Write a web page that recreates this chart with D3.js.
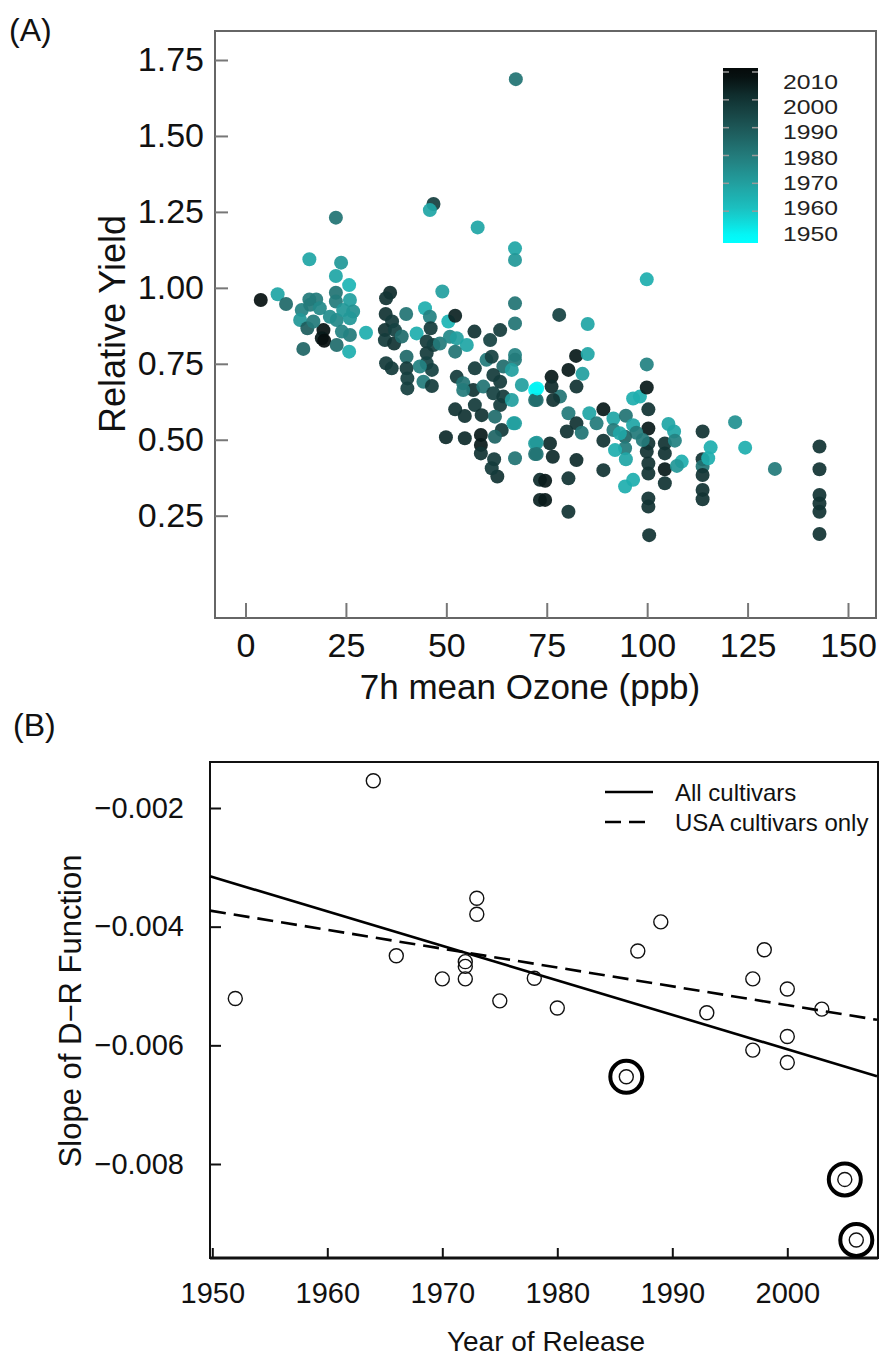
<!DOCTYPE html>
<html><head><meta charset="utf-8">
<script src="https://cdn.jsdelivr.net/npm/d3@7"></script>
<style>body{margin:0;background:#fff}svg{display:block}</style>
</head><body>
<svg id="c" width="880" height="1357"></svg>
<script>
// ---------- Panel A data ----------
const ozone = [67.3,22.5,46.8,45.9,57.8,67.1,15.9,23.8,67.1,99.9,
3.8,8.0,10.1,22.5,25.8,15.9,17.6,22.5,14.0,16.1,18.5,22.5,26.0,26.8,13.6,15.4,19.4,19.0,19.6,16.9,22.7,26.0,30.0,22.7,26.0,25.8,14.4,24.0,21.0,24.3,
36.0,35.0,34.9,36.5,34.7,37.2,34.7,37.0,35.0,36.4,38.9,40.0,40.1,40.1,40.3,40.3,42.6,44.7,45.9,46.1,49.0,50.5,52.2,45.1,46.8,45.1,45.1,46.4,44.3,46.4,43.4,48.4,50.9,52.6,55.1,52.2,57.0,60.9,63.4,67.1,67.1,67.1,67.1,52.6,54.2,57.1,56.7,60.0,61.3,64.2,61.7,63.4,66.3,68.8,54.2,59.2,61.7,64.2,63.4,66.3,52.2,54.6,57.1,58.8,62.1,63.8,66.7,62.1,49.9,54.6,58.6,58.6,58.6,61.9,62.7,61.3,67.1,72.1,72.1,72.1,72.1,73.3,73.3,
78.1,85.2,82.3,85.2,99.9,80.4,76.2,83.9,78.3,82.4,76.2,76.6,80.4,82.4,80.0,83.7,85.6,72.5,72.6,75.8,72.5,72.5,76.5,82.4,80.4,74.6,74.6,80.4,89.1,89.1,89.1,87.4,91.6,94.7,96.5,98.2,99.9,100.3,100.3,100.3,99.9,100.3,100.3,100.3,100.3,100.5,96.5,97.3,98.9,94.5,94.5,92.0,94.7,94.5,96.5,105.3,106.7,104.4,104.4,106.9,104.4,104.4,108.6,107.4,113.8,113.8,113.8,113.8,113.8,113.8,115.8,115.2,121.9,124.4,131.8,142.9,142.9,142.9,142.9,142.9,142.9,67.1,91.6,93.2];
const relYield = [1.687,1.231,1.276,1.256,1.199,1.130,1.094,1.083,1.092,1.028,
0.960,0.979,0.947,1.039,1.009,0.962,0.962,0.984,0.927,0.944,0.933,0.955,0.960,0.922,0.894,0.867,0.861,0.834,0.826,0.889,0.894,0.900,0.852,0.812,0.845,0.790,0.799,0.856,0.905,0.927,
0.984,0.966,0.914,0.889,0.861,0.861,0.828,0.817,0.752,0.735,0.840,0.914,0.773,0.735,0.702,0.669,0.850,0.933,0.905,0.867,0.988,0.889,0.908,0.823,0.812,0.785,0.752,0.730,0.691,0.677,0.741,0.817,0.839,0.834,0.812,0.790,0.856,0.828,0.861,0.949,0.883,0.779,0.763,0.707,0.686,0.735,0.664,0.763,0.773,0.741,0.713,0.691,0.730,0.680,0.664,0.675,0.653,0.642,0.614,0.631,0.600,0.578,0.614,0.581,0.576,0.532,0.554,0.510,0.508,0.505,0.516,0.483,0.455,0.436,0.379,0.406,0.439,0.664,0.631,0.488,0.453,0.368,0.302,
0.911,0.881,0.776,0.782,0.748,0.730,0.707,0.717,0.642,0.675,0.675,0.631,0.587,0.554,0.527,0.523,0.587,0.631,0.669,0.488,0.490,0.453,0.444,0.433,0.373,0.365,0.302,0.263,0.600,0.497,0.400,0.554,0.570,0.579,0.636,0.642,0.672,0.600,0.537,0.488,0.461,0.422,0.389,0.307,0.280,0.186,0.548,0.523,0.499,0.510,0.472,0.466,0.436,0.346,0.368,0.552,0.527,0.488,0.455,0.497,0.403,0.357,0.428,0.414,0.527,0.436,0.412,0.384,0.335,0.304,0.475,0.439,0.558,0.474,0.404,0.478,0.403,0.318,0.290,0.263,0.190,0.554,0.532,0.521];
const releaseYear = [1982,1982,1997,1968,1968,1968,1968,1972,1972,1966,
2008,1968,1985,1968,1964,1980,1980,1982,1978,1980,1976,1980,1970,1974,1972,1988,2008,2006,2009,1980,1976,1972,1966,1984,1980,1966,1986,1978,1975,1972,
2002,2000,2000,1998,2000,1996,1998,2000,1998,1998,1984,1982,1985,1998,1997,1997,1966,1966,1978,1998,1970,1964,2004,1998,1996,1998,1996,1996,1980,1998,1978,1980,1976,1970,1968,1982,2000,1996,1998,1982,1982,1978,1980,1998,1982,1998,2000,1980,1996,1984,1998,1998,1970,1970,1980,1982,1996,1998,1998,1970,2000,2000,1998,2000,1984,1998,1968,1986,2002,2002,2006,2006,2000,1998,2000,1998,1982,1952,1984,1970,1982,2002,2004,
1996,1968,2006,1968,1978,2006,2006,1970,1982,2000,2002,2000,1980,2000,2000,1982,1968,1984,1952,2002,1972,1982,2002,2002,2000,2006,2006,2000,2006,2000,2000,1980,1968,1982,1966,1966,2006,2000,2006,2000,2000,2000,2000,2000,2000,2000,1968,1980,1980,1986,1980,1966,1968,1966,1966,1968,1968,2000,2000,1978,2006,2000,1966,1972,2000,2000,1982,2000,2000,2000,1966,1966,1974,1966,1980,2000,2000,2000,2000,2000,2000,1970,1980,1968];
const xTicksA = [0,25,50,75,100,125,150];
const yTicksA = [0.25,0.50,0.75,1.00,1.25,1.50,1.75];
const legendYears = [2010,2000,1990,1980,1970,1960,1950];
const colorStopYears = [1950,1960,1970,1980,1990,2000,2010];
const colorStops = ["#00ffff","#1ac4c4","#229f9f","#237b7b","#1d5757","#123434","#050a0a"];

// ---------- Panel B data ----------
const relYearB = [1952,1964,1966,1970,1972,1972,1972,1973,1973,1975,1978,1980,1986,1987,1989,1993,1997,1997,1998,2000,2000,2000,2003,2005,2006];
const slopeB = [-0.00521,-0.00154,-0.00449,-0.00488,-0.00459,-0.00467,-0.00488,-0.00352,-0.00379,-0.00525,-0.00487,-0.00537,-0.00653,-0.00441,-0.00392,-0.00545,-0.00488,-0.00608,-0.00439,-0.00505,-0.00585,-0.00629,-0.00539,-0.00826,-0.00928];
const circledB = [0,0,0,0,0,0,0,0,0,0,0,0,1,0,0,0,0,0,0,0,0,0,0,1,1];
const fitNames = ["All cultivars","USA cultivars only"];
const fitYears = [1949.8,2007.8];
const fitAll = [-0.00315,-0.00652];
const fitUSA = [-0.00373,-0.00557];
const xTicksB = [1950,1960,1970,1980,1990,2000];
const yTicksB = [-0.002,-0.004,-0.006,-0.008];

const svg = d3.select("#c");
const FONT = "'Liberation Sans', Arial, sans-serif";
svg.append("rect").attr("width",880).attr("height",1357).attr("fill","#fff");

// ===== Panel A =====
const A = {l:215,r:876,t:31,b:618};
const xA = d3.scaleLinear().domain([0,150]).range([245.5,848]);
const yA = d3.scaleLinear().domain([0.25,1.75]).range([515.7,60]);
const col = d3.scaleLinear().domain(colorStopYears).range(colorStops).clamp(true);

const gA = svg.append("g");
gA.selectAll("circle.pt").data(ozone.map((d,i)=>({x:d,y:relYield[i],yr:releaseYear[i]})))
  .join("circle").attr("class","pt")
  .attr("cx",d=>xA(d.x)).attr("cy",d=>yA(d.y)).attr("r",7)
  .attr("fill",d=>col(d.yr)).attr("fill-opacity",0.93);

gA.append("rect").attr("x",A.l).attr("y",A.t).attr("width",A.r-A.l).attr("height",A.b-A.t)
  .attr("fill","none").attr("stroke","#666").attr("stroke-width",2);

const axA = gA.append("g").attr("transform",`translate(0,${A.b})`)
  .call(d3.axisBottom(xA).tickValues(xTicksA).tickSize(-15).tickPadding(15).tickFormat(d3.format("d")));
const ayA = gA.append("g").attr("transform",`translate(${A.l},0)`)
  .call(d3.axisLeft(yA).tickValues(yTicksA).tickSize(-13).tickPadding(11).tickFormat(d3.format(".2f")));
[axA,ayA].forEach(g=>{
  g.select(".domain").remove();
  g.selectAll(".tick line").attr("stroke","#777").attr("stroke-width",2);
  g.selectAll("text").attr("font-family",FONT).attr("font-size",34).attr("fill","#111");
});
gA.append("text").attr("x",530).attr("y",699).attr("text-anchor","middle")
  .attr("font-family",FONT).attr("font-size",35).attr("fill","#111").text("7h mean Ozone (ppb)");
gA.append("text").attr("transform","translate(125,324) rotate(-90)").attr("text-anchor","middle")
  .attr("font-family",FONT).attr("font-size",36).attr("fill","#111").text("Relative Yield");
svg.append("text").attr("x",9).attr("y",41).attr("font-family",FONT).attr("font-size",32).attr("fill","#111").text("(A)");

// colour bar legend
const barY = d3.scaleLinear().domain([1950,2010]).range([239,72]);
const labY = d3.scaleLinear().domain([1950,2010]).range([233,81]);
const defs = svg.append("defs");
const grad = defs.append("linearGradient").attr("id","yrgrad").attr("x1",0).attr("x2",0).attr("y1",1).attr("y2",0);
const barTop = 68, barBot = 243;
d3.range(0,1.0001,0.05).forEach(t=>{
  const yr = barY.invert(barBot - t*(barBot-barTop));
  grad.append("stop").attr("offset",t).attr("stop-color",col(yr));
});
svg.append("rect").attr("x",723).attr("y",barTop).attr("width",35).attr("height",barBot-barTop).attr("fill","url(#yrgrad)");
const legG = svg.append("g");
legendYears.forEach(yr=>{
  if(yr>1950){
    legG.append("line").attr("x1",723).attr("x2",729).attr("y1",barY(yr)).attr("y2",barY(yr)).attr("stroke","#9a9a9a").attr("stroke-width",1.5);
    legG.append("line").attr("x1",752).attr("x2",758).attr("y1",barY(yr)).attr("y2",barY(yr)).attr("stroke","#9a9a9a").attr("stroke-width",1.5);
  }
  legG.append("text").attr("x",783).attr("y",labY(yr)).attr("dy","0.36em")
    .attr("font-family",FONT).attr("font-size",21).attr("fill","#222")
    .attr("textLength",55).attr("lengthAdjust","spacingAndGlyphs").text(yr);
});

// ===== Panel B =====
const B = {l:210,r:878,t:762,b:1258};
const xB = d3.scaleLinear().domain([1949.8,2007.8]).range([210,877]);
const yB = d3.scaleLinear().domain([-0.002,-0.008]).range([808,1164]);
const gB = svg.append("g");
gB.append("rect").attr("x",B.l).attr("y",B.t).attr("width",B.r-B.l).attr("height",B.b-B.t)
  .attr("fill","none").attr("stroke","#111").attr("stroke-width",2);
gB.append("line").attr("x1",B.l).attr("x2",B.r).attr("y1",B.b).attr("y2",B.b).attr("stroke","#111").attr("stroke-width",3);

const line = d3.line().x(d=>xB(d[0])).y(d=>yB(d[1]));
gB.append("path").attr("d",line(fitYears.map((y,i)=>[y,fitAll[i]]))).attr("fill","none").attr("stroke","#000").attr("stroke-width",2.6);
gB.append("path").attr("d",line(fitYears.map((y,i)=>[y,fitUSA[i]]))).attr("fill","none").attr("stroke","#000").attr("stroke-width",2.6).attr("stroke-dasharray","16,8");

const ptsB = relYearB.map((d,i)=>({x:d,y:slopeB[i],c:circledB[i]}));
gB.selectAll("circle.pb").data(ptsB).join("circle").attr("class","pb")
  .attr("cx",d=>xB(d.x)).attr("cy",d=>yB(d.y)).attr("r",7)
  .attr("fill","none").attr("stroke","#111").attr("stroke-width",1.4);
gB.selectAll("circle.ring").data(ptsB.filter(d=>d.c)).join("circle").attr("class","ring")
  .attr("cx",d=>xB(d.x)).attr("cy",d=>yB(d.y)).attr("r",16)
  .attr("fill","none").attr("stroke","#000").attr("stroke-width",4);

const axB = gB.append("g").attr("transform",`translate(0,${B.b})`)
  .call(d3.axisBottom(xB).tickValues(xTicksB).tickSize(-10).tickPadding(24).tickFormat(d3.format("d")));
const ayB = gB.append("g").attr("transform",`translate(${B.l},0)`)
  .call(d3.axisLeft(yB).tickValues(yTicksB).tickSize(-11).tickPadding(26).tickFormat(d3.format(".3f")));
[axB,ayB].forEach(g=>{
  g.select(".domain").remove();
  g.selectAll(".tick line").attr("stroke","#111").attr("stroke-width",2);
  g.selectAll("text").attr("font-family",FONT).attr("font-size",29).attr("fill","#111");
});
gB.append("text").attr("x",546).attr("y",1351).attr("text-anchor","middle")
  .attr("font-family",FONT).attr("font-size",28).attr("fill","#111").text("Year of Release");
gB.append("text").attr("transform","translate(81,1011) rotate(-90)").attr("text-anchor","middle")
  .attr("font-family",FONT).attr("font-size",31).attr("fill","#111").text("Slope of D\u2212R Function");
svg.append("text").attr("x",13).attr("y",736).attr("font-family",FONT).attr("font-size",32).attr("fill","#111").text("(B)");

// legend B
fitNames.forEach((n,i)=>{
  const yy = 792 + i*30;
  gB.append("line").attr("x1",605).attr("x2",653).attr("y1",yy).attr("y2",yy).attr("stroke","#000").attr("stroke-width",2.6)
    .attr("stroke-dasharray", i===1 ? "16,8" : null);
  gB.append("text").attr("x",675).attr("y",yy).attr("dy","0.36em").attr("font-family",FONT).attr("font-size",24).attr("fill","#111").text(n);
});
</script>
</body></html>
